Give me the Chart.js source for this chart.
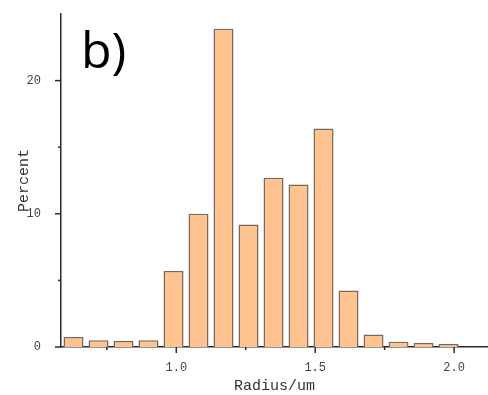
<!DOCTYPE html>
<html>
<head>
  <meta charset="UTF-8">
  <title>Radius distribution</title>
  <script src="https://cdn.jsdelivr.net/npm/chart.js"></script>
  <style>
    html, body { margin: 0; padding: 0; background: #fff; }
    #wrap { width: 488px; height: 395px; }
  </style>
</head>
<body>
  <div id="wrap"><canvas id="grafico"></canvas></div>
  <script>
    // bin centres (um) and percentages
    const radius = [0.63, 0.72, 0.81, 0.90, 0.99, 1.08, 1.17, 1.26, 1.35, 1.44, 1.53, 1.62, 1.71, 1.80, 1.89, 1.98];
    const percent = [0.75, 0.5, 0.45, 0.5, 5.7, 10.0, 23.9, 9.2, 12.7, 12.2, 16.4, 4.25, 0.93, 0.4, 0.3, 0.22];
    const xMajor = [1.0, 1.5, 2.0];
    const xMinor = [0.75, 1.25, 1.75];
    const yMajor = [0, 10, 20];
    const yMinor = [5, 15];
    const panelLabel = 'b)';

    const axisColor = '#2a2a2a';
    const monoFont = '"Liberation Mono", "DejaVu Sans Mono", monospace';

    // custom tick marks (major longer than minor) + panel label
    const extras = {
      id: 'extras',
      afterDraw(chart) {
        const ctx = chart.ctx;
        const xs = chart.scales.x, ys = chart.scales.y;
        const a = chart.chartArea;
        ctx.save();
        ctx.strokeStyle = axisColor;
        ctx.lineWidth = 1.5;
        const tick = (x1, y1, x2, y2) => {
          ctx.beginPath(); ctx.moveTo(x1, y1); ctx.lineTo(x2, y2); ctx.stroke();
        };
        xMajor.forEach(v => { const p = xs.getPixelForValue(v); tick(p, a.bottom, p, a.bottom + 6); });
        xMinor.forEach(v => { const p = xs.getPixelForValue(v); tick(p, a.bottom, p, a.bottom + 3); });
        yMajor.forEach(v => { const p = ys.getPixelForValue(v); tick(a.left, p, a.left - 6, p); });
        yMinor.forEach(v => { const p = ys.getPixelForValue(v); tick(a.left, p, a.left - 3, p); });

        ctx.fillStyle = '#000';
        ctx.font = '50px "Open Sans", "Noto Sans", sans-serif';
        ctx.textBaseline = 'alphabetic';
        ctx.fillText(panelLabel, 81, 68);
        ctx.restore();
      }
    };

    new Chart(document.getElementById('grafico'), {
      type: 'bar',
      data: {
        datasets: [{
          data: radius.map((r, i) => ({ x: r, y: percent[i] })),
          backgroundColor: '#fec38f',
          borderColor: '#76685e',
          borderWidth: 1.5,
          barPercentage: 0.8,
          categoryPercentage: 1.0
        }]
      },
      options: {
        responsive: true,
        maintainAspectRatio: false,
        animation: false,
        layout: { padding: { top: 14, right: 0, left: 0, bottom: 0 } },
        plugins: { legend: { display: false }, tooltip: { enabled: false } },
        scales: {
          x: {
            type: 'linear',
            min: 0.585,
            max: 2.122,
            offset: false,
            grid: { display: false },
            border: { display: true, color: axisColor, width: 1.5 },
            afterBuildTicks: s => { s.ticks = xMajor.map(v => ({ value: v })); },
            afterFit: s => { s.height = 48; s.paddingLeft = 0; s.paddingRight = 0; },
            ticks: {
              padding: 6,
              color: '#444',
              font: { family: monoFont, size: 12 },
              callback: v => Number(v).toFixed(1)
            },
            title: {
              display: true,
              text: 'Radius/um',
              color: '#333',
              font: { family: monoFont, size: 15 },
              padding: { top: 2, bottom: 0 }
            }
          },
          y: {
            min: 0,
            max: 25,
            grid: { display: false },
            border: { display: true, color: axisColor, width: 1.5 },
            afterBuildTicks: s => { s.ticks = yMajor.map(v => ({ value: v })); },
            afterFit: s => { s.width = 61; s.paddingTop = 0; s.paddingBottom = 0; },
            ticks: {
              padding: 12,
              color: '#444',
              font: { family: monoFont, size: 12 }
            },
            title: {
              display: true,
              text: 'Percent',
              color: '#333',
              font: { family: monoFont, size: 15 },
              padding: { top: 15, bottom: 0 }
            }
          }
        }
      },
      plugins: [extras]
    });
  </script>
</body>
</html>
